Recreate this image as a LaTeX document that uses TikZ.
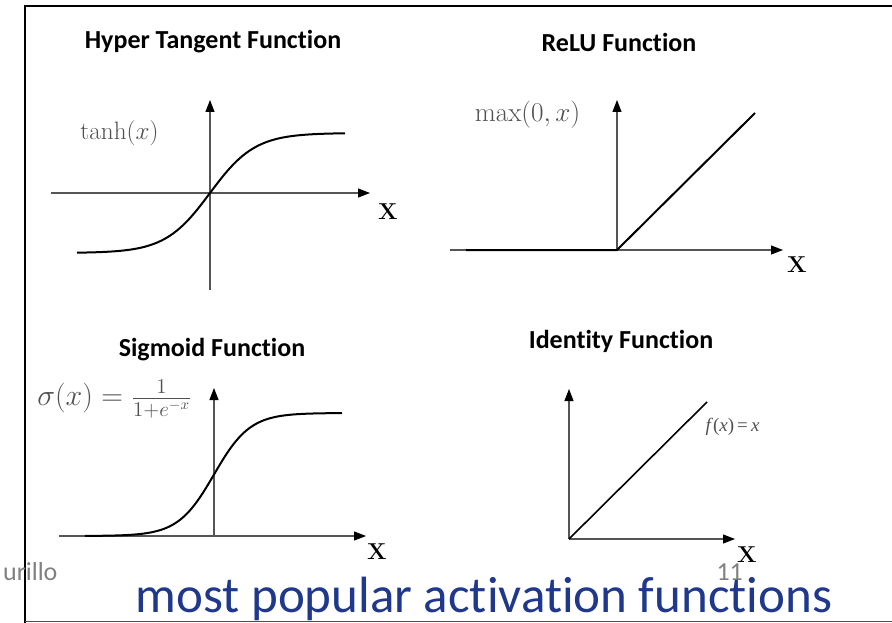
\RequirePackage{fix-cm}
\documentclass[tikz,border=0pt]{standalone}
\usepackage{fontspec}
\usetikzlibrary{arrows.meta}
\newfontfamily\calibri[Ligatures=NoCommon]{Carlito}
\newfontfamily\timesfont{Liberation Serif}
\definecolor{slideblue}{RGB}{31,56,140}
\definecolor{footgray}{RGB}{128,128,128}
\definecolor{axisgray}{RGB}{85,85,85}
\definecolor{labelgray}{RGB}{80,80,80}

\begin{document}
\begin{tikzpicture}[x=1pt, y=-1pt,
  axis/.style={draw=axisgray, line width=1.1pt,
    -{Triangle[length=12pt,width=9pt,color=black]}},
  curve/.style={line width=2pt, black},
  title/.style={font=\calibri\bfseries\fontsize{26}{30}\selectfont},
  fname/.style={text=labelgray, anchor=west, transform shape, font=\fontsize{20}{24}\selectfont},
  xlabel/.style={font=\bfseries\fontsize{23}{28}\selectfont}]

  \useasboundingbox (0,0) rectangle (892,623);

  % slide frame
  \draw[line width=2.5pt] (25,623) -- (25,6) -- (892,6);
  \draw[line width=1pt, black!70] (25,621) -- (892,621);

  % hyper tangent
  \def\ox{210}
  \def\oy{193}
  \node[title] (tanhtitle) at (213,42) {Hyper Tangent Function};
  \draw[axis] (51,\oy) -- (370,\oy);
  \draw[axis] (\ox,290) -- (\ox,100);
  \draw[curve] plot[domain=-133:135, samples=90] ({\ox+\x},{\oy-60*tanh(\x/45)});
  \node[fname, scale=1.26] (tanhlabel) at (76,133) {$\tanh(x)$};
  \node[xlabel] (tanhx) at (388,212) {X};

  % relu
  \def\ox{617}
  \def\oy{250}
  \node[title] (relutitle) at (619,42) {ReLU Function};
  \draw[axis] (450,\oy) -- (783,\oy);
  \draw[axis] (\ox,\oy) -- (\ox,100);
  \draw[curve] (466,\oy) -- (\ox,\oy) -- (755,113);
  \node[fname, scale=1.36] (relulabel) at (470,115) {$\max(0,x)$};
  \node[xlabel] (relux) at (797,265) {X};

  % sigmoid
  \def\ox{214}
  \def\oy{536}
  \node[title] (sigtitle) at (212,350) {Sigmoid Function};
  \draw[axis] (59,\oy) -- (366,\oy);
  \draw[axis] (\ox,\oy) -- (\ox,388);
  \draw[curve] plot[domain=-129:128, samples=90] ({\ox+\x},{\oy-123/(1+exp(-\x/18))});
  \node[fname, scale=1.5] (siglabel) at (32,399) {$\sigma(x)=\frac{1}{1+e^{-x}}$};
  \node[xlabel] (sigx) at (377,552) {X};

  % identity
  \def\ox{569}
  \def\oy{539}
  \node[title] (idtitle) at (621,341) {Identity Function};
  \draw[axis] (\ox,\oy) -- (735,\oy);
  \draw[axis] (\ox,\oy) -- (\ox,389);
  \draw[curve, line width=1.6pt] (\ox,\oy) -- (707,402);
  \node[anchor=west, text=labelgray, font=\timesfont\fontsize{19}{22}\selectfont]
    (idlabel) at (702,427) {\textit{f}(\textit{x})\,=\,\textit{x}};
  \node[xlabel] (idx) at (747,555) {X};

  % footer
  \node[anchor=base east, text=footgray, font=\calibri\fontsize{26}{30}\selectfont]
    (author) at (61,580) {urillo};
  \node[anchor=base west, text=footgray, font=\calibri\fontsize{26}{30}\selectfont]
    (pagenum) at (713,580) {11};
  \node[anchor=base, text=slideblue, font=\calibri\fontsize{51}{56}\selectfont]
    (caption) at (484,612) {most popular activation functions};
\end{tikzpicture}
\end{document}
